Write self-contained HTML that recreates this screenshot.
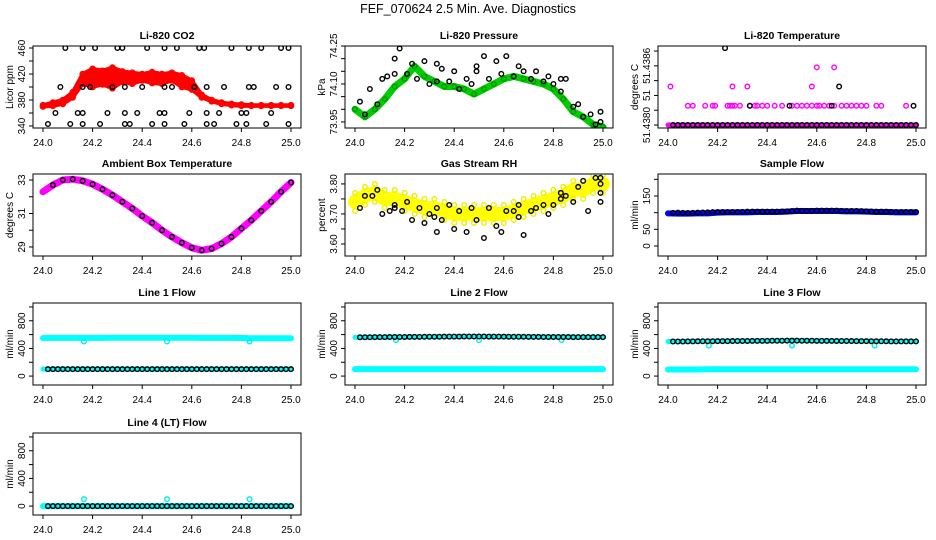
<!DOCTYPE html>
<html><head><meta charset="utf-8">
<style>
html,body{margin:0;padding:0;background:#fff;}
svg{display:block;font-family:"Liberation Sans",sans-serif;}
.tk{font-size:10px;fill:#000;}
.ttl{font-size:10.5px;font-weight:bold;fill:#000;}
</style></head>
<body>
<svg id="chart" width="936" height="540" viewBox="0 0 936 540">
<text x="468" y="13" text-anchor="middle" font-size="12.5">FEF_070624  2.5 Min. Ave. Diagnostics</text>
</svg>
<script>
// ---- data ----
const T = [24.00,24.04,24.08,24.12,24.16,24.20,24.24,24.28,24.32,24.36,24.40,24.44,24.48,24.52,24.56,24.60,24.64,24.68,24.72,24.76,24.80,24.84,24.88,24.92,24.96,25.00];
const xTicks = [24.0,24.2,24.4,24.6,24.8,25.0];
const xTickLabels = ["24.0","24.2","24.4","24.6","24.8","25.0"];

const co2RedHi = [372,376,380,392,420,428,425,430,424,422,420,423,420,422,418,410,388,380,376,374,373,372,372,372,372,372];
const co2RedLo = [370,371,374,384,405,400,404,398,408,405,410,406,405,410,400,396,384,378,374,372,371,371,371,371,371,371];
const co2BlackLevels = [460,400,360,343];
const co2BlackTimes = [
 [24.09,24.16,24.21,24.30,24.32,24.42,24.49,24.54,24.63,24.65,24.76,24.83,24.88,24.96,24.99],
 [24.07,24.16,24.19,24.28,24.33,24.40,24.49,24.52,24.61,24.66,24.73,24.83,24.85,24.94,24.99],
 [24.05,24.14,24.16,24.26,24.33,24.38,24.47,24.49,24.59,24.66,24.71,24.80,24.82,24.92],
 [24.02,24.11,24.16,24.23,24.33,24.35,24.44,24.49,24.57,24.66,24.69,24.78,24.82,24.90,24.99]];

const presGreen = [74.00,73.97,74.00,74.04,74.09,74.12,74.17,74.13,74.11,74.09,74.09,74.08,74.06,74.08,74.10,74.12,74.13,74.12,74.11,74.10,74.08,74.04,73.99,73.97,73.94,73.93];
const presBlackX = [24.02,24.04,24.06,24.09,24.11,24.13,24.16,24.16,24.18,24.21,24.23,24.25,24.28,24.30,24.33,24.33,24.35,24.38,24.40,24.42,24.45,24.47,24.49,24.49,24.52,24.54,24.57,24.59,24.61,24.64,24.66,24.68,24.71,24.73,24.76,24.78,24.80,24.83,24.83,24.85,24.88,24.90,24.92,24.95,24.97,24.99,24.99];
const presBlackY = [74.03,73.98,74.08,74.02,74.12,74.13,74.14,74.20,74.24,74.14,74.18,74.12,74.19,74.10,74.18,74.11,74.16,74.11,74.15,74.08,74.12,74.10,74.15,74.17,74.21,74.12,74.19,74.14,74.21,74.13,74.17,74.15,74.12,74.15,74.11,74.13,74.10,74.07,74.12,74.12,74.01,74.02,73.97,73.98,73.94,73.99,73.95];

const tempMagLevels = [1.3,2.6,3.9];
const tempMagTimes = [
 [24.08,24.10,24.15,24.18,24.19,24.24,24.25,24.26,24.27,24.29,24.33,24.35,24.36,24.38,24.40,24.43,24.46,24.50,24.52,24.54,24.56,24.58,24.60,24.61,24.63,24.65,24.67,24.70,24.72,24.74,24.76,24.78,24.80,24.84,24.86,24.96],
 [24.01,24.26,24.32,24.58],
 [24.60,24.67]];
const tempBlackX = [24.23,24.69,24.33,24.49,24.66,24.99];
const tempBlackY = [5.2,2.6,1.3,1.3,1.3,1.3];
const tempBase = [0,0,0,0,0,0,0,0,0,0,0,0,0,0,0,0,0,0,0,0,0,0,0,0,0,0];

const ambMag = [32.3,32.7,33.0,33.05,32.95,32.75,32.45,32.1,31.7,31.3,30.85,30.45,30.0,29.6,29.25,28.95,28.8,28.9,29.2,29.6,30.1,30.6,31.15,31.7,32.3,32.85];

const rhYellow = [3.74,3.76,3.77,3.75,3.75,3.74,3.73,3.72,3.72,3.71,3.70,3.70,3.70,3.70,3.70,3.70,3.71,3.72,3.73,3.74,3.75,3.76,3.78,3.78,3.80,3.80];
const rhBlackX = [24.02,24.04,24.07,24.09,24.11,24.14,24.16,24.16,24.19,24.21,24.23,24.26,24.28,24.30,24.32,24.33,24.33,24.35,24.38,24.40,24.42,24.45,24.47,24.49,24.52,24.54,24.57,24.59,24.61,24.64,24.66,24.66,24.68,24.71,24.73,24.76,24.78,24.80,24.83,24.83,24.85,24.88,24.90,24.92,24.94,24.97,24.99,24.99,24.99,24.99];
const rhBlackY = [3.72,3.76,3.76,3.78,3.70,3.71,3.73,3.72,3.71,3.74,3.68,3.72,3.67,3.70,3.69,3.72,3.64,3.68,3.73,3.65,3.71,3.64,3.72,3.68,3.62,3.72,3.66,3.64,3.71,3.71,3.69,3.73,3.63,3.71,3.72,3.73,3.70,3.73,3.75,3.77,3.76,3.74,3.79,3.81,3.71,3.82,3.82,3.80,3.77,3.74];

const sfBlue = [98,97,97,98,98,100,101,101,101,102,102,102,103,105,105,105,105,105,104,104,103,102,102,101,101,101];
const sfBlack = [99,100,99,100,101,102,102,102,103,103,103,103,104,106,105,106,106,106,105,105,104,103,103,102,102,102];

const l1Cyan = [550,552,552,553,553,553,553,554,554,554,554,554,554,554,554,554,553,553,553,552,550,548,548,548,548,548];
const l1Black = [100,100,100,100,100,100,100,100,100,100,100,100,100,100,100,100,100,100,100,100,100,100,100,100,100,100];
const l1CyanLo = [100,100,100,100,100,100,100,100,100,100,100,100,100,100,100,100,100,100,100,100,100,100,100,100,100,100];
const l2Black = [560,562,563,564,565,566,567,568,569,570,571,572,572,572,571,570,569,568,567,566,565,565,564,564,564,563];
const l2Cyan = [100,100,100,100,100,100,100,100,100,100,100,100,100,100,100,100,100,100,100,100,100,100,100,100,100,100];
const l3Black = [500,500,502,503,504,505,506,507,508,509,510,511,512,512,511,510,509,508,507,506,505,504,503,502,502,502];
const l3Cyan = [95,95,95,95,98,98,98,98,98,98,98,98,98,98,98,98,98,98,98,98,98,98,98,98,98,98];
const l4Black = [0,0,0,0,0,0,0,0,0,0,0,0,0,0,0,0,0,0,0,0,0,0,0,0,0,0];
const l4Cyan = [0,0,0,0,0,0,0,0,0,0,0,0,0,0,0,0,0,0,0,0,0,0,0,0,0,0];
const dipTimes = [24.165,24.5,24.833];
const l1Dips = [500,500,500];
const l2Dips = [520,520,520];
const l3Dips = [440,440,440];
const l4Spikes = [100,100,100];

// ---- layout ----
const svg = document.getElementById('chart');
const NS = 'http://www.w3.org/2000/svg';
const colX0 = [43,355,668];
const rowTop = [46,174,303,433];
const BH = 82;
function mk(tag, attrs, parent){
  const e = document.createElementNS(NS, tag);
  for (const k in attrs) e.setAttribute(k, attrs[k]);
  (parent||svg).appendChild(e);
  return e;
}
function panel(cfg){
  const x0 = colX0[cfg.col], top = rowTop[cfg.row];
  const g = mk('g', {});
  
  
  const sx = t => x0 + (t - 24) * 248;
  const sy = v => top + (cfg.ymax - v) / (cfg.ymax - cfg.ymin) * BH;
  const L = x0 - 10, R = x0 + 258;
  const clipId = 'clip-' + cfg.name;
  const cp = mk('clipPath', {id: clipId}, g);
  mk('rect', {x: L, y: top, width: R - L, height: BH}, cp);
  const plot = mk('g', {'clip-path': 'url(#' + clipId + ')'}, g);
  
  
  cfg.draw(plot, sx, sy);
  const box = mk('rect', {x: L, y: top, width: R - L, height: BH, fill: 'none', stroke: '#000', 'stroke-width': 1}, g);
  
  
  const t = mk('text', {x: (L + R) / 2, y: top - 7, 'text-anchor': 'middle', class: 'ttl'}, g);
  t.textContent = cfg.title;
  
  
  const xa = mk('g', {}, g);
  
  
  xTicks.forEach((v, i) => {
    mk('line', {x1: sx(v), x2: sx(v), y1: top + BH, y2: top + BH + 4, stroke: '#000'}, xa);
    const tx = mk('text', {x: sx(v), y: top + BH + 18, 'text-anchor': 'middle', class: 'tk'}, xa);
    tx.textContent = xTickLabels[i];
  });
  const ya = mk('g', {}, g);
  
  
  cfg.yticks.forEach((v, i) => {
    const y = sy(v);
    mk('line', {x1: L - 4, x2: L, y1: y, y2: y, stroke: '#000'}, ya);
    const lab = cfg.ylabels[i];
    if (lab) {
      const tx = mk('text', {x: L - 8, y: y, 'text-anchor': 'middle', class: 'tk', transform: 'rotate(-90 ' + (L - 8) + ' ' + y + ')'}, ya);
      tx.textContent = lab;
    }
  });
  const yt = mk('text', {x: L - 20, y: top + BH / 2, 'text-anchor': 'middle', class: 'tk', transform: 'rotate(-90 ' + (L - 20) + ' ' + (top + BH / 2) + ')'}, g);
  yt.textContent = cfg.ylab;
  
  
}
function band(p, sx, sy, xs, ys, color, w, name){
  const pts = xs.map((t, i) => sx(t) + ',' + sy(ys[i])).join(' ');
  const pl = mk('polyline', {points: pts, fill: 'none', stroke: color, 'stroke-width': w, 'stroke-linejoin': 'round', 'stroke-linecap': 'round'}, p);
  
  
}
function area(p, sx, sy, xs, hi, lo, color, name){
  const a = xs.map((t, i) => sx(t) + ',' + sy(hi[i]));
  const b = xs.map((t, i) => sx(t) + ',' + sy(lo[i])).reverse();
  const pg = mk('polygon', {points: a.concat(b).join(' '), fill: color, stroke: color, 'stroke-width': 4, 'stroke-linejoin': 'round'}, p);
  
  
}
function pts(p, sx, sy, xs, ys, color, name, r){
  const g = mk('g', {}, p);
  
  
  xs.forEach((t, i) => {
    mk('circle', {cx: sx(t), cy: sy(ys[i]), r: r || 2.3, fill: 'none', stroke: color, 'stroke-width': 1.4}, g);
  });
}
function mids(a){ const o = []; for (let i = 0; i < a.length - 1; i++) o.push((a[i] + a[i + 1]) / 2); return o; }

panel({name:'co2', col:0, row:0, title:'Li-820 CO2', ylab:'Licor ppm', ymin:336.9, ymax:463.1,
  yticks:[340,360,380,400,420,440,460], ylabels:['340','','380','','420','','460'],
  draw:(p,sx,sy)=>{
    area(p,sx,sy,T,co2RedHi,co2RedLo,'#ff0000','co2-red-band');
    pts(p,sx,sy,T,co2RedHi,'#ff0000','co2-red-upper-points',2.6);
    pts(p,sx,sy,T,co2RedLo,'#ff0000','co2-red-lower-points',2.6);
    co2BlackLevels.forEach((lv,i)=>pts(p,sx,sy,co2BlackTimes[i],co2BlackTimes[i].map(()=>lv),'#000','co2-black-level-'+i));
  }});
panel({name:'pressure', col:1, row:0, title:'Li-820 Pressure', ylab:'kPa', ymin:73.926, ymax:74.25,
  yticks:[73.95,74.00,74.05,74.10,74.15,74.20,74.25], ylabels:['73.95','','','74.10','','','74.25'],
  draw:(p,sx,sy)=>{
    band(p,sx,sy,T,presGreen,'#00cc00',7,'pressure-green-band');
    pts(p,sx,sy,T,presGreen,'#009900','pressure-green-points');
    pts(p,sx,sy,presBlackX,presBlackY,'#000','pressure-black-points');
  }});
panel({name:'li820-temp', col:2, row:0, title:'Li-820 Temperature', ylab:'degrees C', ymin:-0.2, ymax:5.34,
  yticks:[0,1,2,3,4,5], ylabels:['51.4380','','51','','51.4386',''],
  draw:(p,sx,sy)=>{
    band(p,sx,sy,T,tempBase,'#ff00ff',5,'temp-magenta-base');
    tempMagLevels.forEach((lv,i)=>pts(p,sx,sy,tempMagTimes[i],tempMagTimes[i].map(()=>lv),'#ff00ff','temp-magenta-level-'+i));
    pts(p,sx,sy,mids(T).concat(T.slice(1)),mids(T).concat(T.slice(1)).map(()=>0),'#000','temp-black-base');
    pts(p,sx,sy,tempBlackX,tempBlackY,'#000','temp-black-points');
  }});
panel({name:'ambient', col:0, row:1, title:'Ambient Box Temperature', ylab:'degrees C', ymin:28.46, ymax:33.36,
  yticks:[29,30,31,32,33], ylabels:['29','','31','','33'],
  draw:(p,sx,sy)=>{
    band(p,sx,sy,T,ambMag,'#ff00ff',7,'ambient-magenta-band');
    pts(p,sx,sy,T.slice(1),ambMag.slice(1),'#000','ambient-black-points');
  }});
panel({name:'rh', col:1, row:1, title:'Gas Stream RH', ylab:'percent', ymin:3.56, ymax:3.833,
  yticks:[3.60,3.65,3.70,3.75,3.80], ylabels:['3.60','','3.70','','3.80'],
  draw:(p,sx,sy)=>{
    band(p,sx,sy,T,rhYellow,'#ffff00',14,'rh-yellow-band');
    pts(p,sx,sy,T,rhYellow.map(v=>v+0.03),'#eeee00','rh-yellow-upper');
    pts(p,sx,sy,T,rhYellow.map(v=>v-0.03),'#eeee00','rh-yellow-lower');
    pts(p,sx,sy,rhBlackX,rhBlackY,'#000','rh-black-points');
  }});
panel({name:'sample-flow', col:2, row:1, title:'Sample Flow', ylab:'ml/min', ymin:-30, ymax:216,
  yticks:[0,50,100,150,200], ylabels:['0','50','','150',''],
  draw:(p,sx,sy)=>{
    band(p,sx,sy,T,sfBlue,'#0000ff',6,'sample-flow-blue-band');
    pts(p,sx,sy,T.slice(1),sfBlack.slice(1),'#000','sample-flow-black-points');
    pts(p,sx,sy,mids(T),mids(sfBlack),'#000','sample-flow-black-mid');
  }});
const flowTicks=[0,200,400,600,800,1000], flowLabels=['0','','400','','800',''];
panel({name:'line1-flow', col:0, row:2, title:'Line 1 Flow', ylab:'ml/min', ymin:-129, ymax:1057, yticks:flowTicks, ylabels:flowLabels,
  draw:(p,sx,sy)=>{
    band(p,sx,sy,T,l1Cyan,'#00ffff',6,'line1-cyan-band');
    band(p,sx,sy,T,l1CyanLo,'#00ffff',5,'line1-cyan-low');
    pts(p,sx,sy,dipTimes,l1Dips,'#00eeee','line1-cyan-dips');
    pts(p,sx,sy,T.slice(1),l1Black.slice(1),'#000','line1-black-points');
    pts(p,sx,sy,mids(T),mids(l1Black),'#000','line1-black-mid');
  }});
panel({name:'line2-flow', col:1, row:2, title:'Line 2 Flow', ylab:'ml/min', ymin:-129, ymax:1057, yticks:flowTicks, ylabels:flowLabels,
  draw:(p,sx,sy)=>{
    band(p,sx,sy,T,l2Cyan,'#00ffff',6,'line2-cyan-band');
    band(p,sx,sy,T,l2Black,'#00ffff',5,'line2-cyan-upper');
    pts(p,sx,sy,dipTimes,l2Dips,'#00eeee','line2-cyan-dips');
    pts(p,sx,sy,T.slice(1),l2Black.slice(1),'#000','line2-black-points');
    pts(p,sx,sy,mids(T),mids(l2Black),'#000','line2-black-mid');
  }});
panel({name:'line3-flow', col:2, row:2, title:'Line 3 Flow', ylab:'ml/min', ymin:-129, ymax:1057, yticks:flowTicks, ylabels:flowLabels,
  draw:(p,sx,sy)=>{
    band(p,sx,sy,T,l3Cyan,'#00ffff',6,'line3-cyan-band');
    band(p,sx,sy,T,l3Black,'#00ffff',5,'line3-cyan-upper');
    pts(p,sx,sy,dipTimes,l3Dips,'#00eeee','line3-cyan-dips');
    pts(p,sx,sy,T.slice(1),l3Black.slice(1),'#000','line3-black-points');
    pts(p,sx,sy,mids(T),mids(l3Black),'#000','line3-black-mid');
  }});
panel({name:'line4-flow', col:0, row:3, title:'Line 4 (LT) Flow', ylab:'ml/min', ymin:-129, ymax:1057, yticks:flowTicks, ylabels:flowLabels,
  draw:(p,sx,sy)=>{
    band(p,sx,sy,T,l4Cyan,'#00ffff',6,'line4-cyan-band');
    pts(p,sx,sy,dipTimes,l4Spikes,'#00eeee','line4-cyan-spikes');
    pts(p,sx,sy,T.slice(1),l4Black.slice(1),'#000','line4-black-points');
    pts(p,sx,sy,mids(T),mids(l4Black),'#000','line4-black-mid');
  }});
</script>
</body></html>
